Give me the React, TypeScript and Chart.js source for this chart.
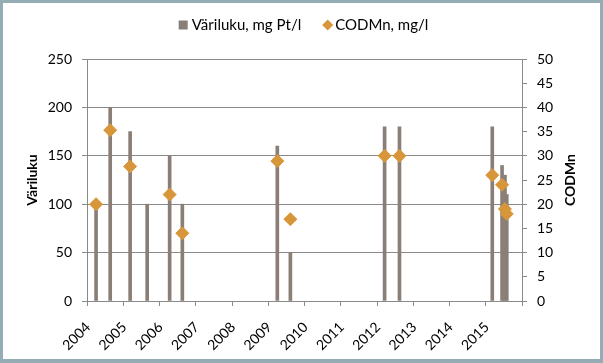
import React, { useEffect, useRef } from 'react';
import { Chart, registerables } from 'chart.js';

Chart.register(...registerables);

// ---- data ----
const sampleYears = [2004.25, 2004.64, 2005.19, 2005.66, 2006.28, 2006.63, 2009.25, 2009.61, 2012.21, 2012.62, 2015.18, 2015.45, 2015.53, 2015.58];
const varilukuValues = [100, 200, 175, 100, 150, 100, 160, 50, 180, 180, 180, 140, 130, 110];
const codmnValues: (number | null)[] = [20, 35.3, 27.8, null, 22, 14, 28.9, 16.9, 30, 30, 26, 24, 19, 18];
const xTickYears = [2004, 2005, 2006, 2007, 2008, 2009, 2010, 2011, 2012, 2013, 2014, 2015, 2016];
const xTickLabels = ['2004', '2005', '2006', '2007', '2008', '2009', '2010', '2011', '2012', '2013', '2014', '2015', ''];
const leftTicks = [0, 50, 100, 150, 200, 250];
const rightTicks = [0, 5, 10, 15, 20, 25, 30, 35, 40, 45, 50];
const seriesLabels = ['Väriluku, mg Pt/l', 'CODMn, mg/l'];
const axisTitles = ['Väriluku', 'CODMn'];

// ---- styles ----
const BAR = '#8a7f76';
const ORANGE = '#d8963a';
const GRID = '#8a8a8a';
const TEXT = '#000000';
const FRAME = '#94adb4';
const FONT = 'Lato';

const framePlugin = {
  id: 'frame',
  beforeDraw(chart: any) {
    const { ctx, width, height } = chart;
    ctx.save();
    ctx.fillStyle = '#ffffff';
    ctx.fillRect(0, 0, width, height);
    ctx.restore();
  },
  afterDraw(chart: any) {
    const { ctx, width, height, chartArea } = chart;
    ctx.save();
    // outer frame
    ctx.fillStyle = FRAME;
    ctx.fillRect(0, 0, width, 3);
    ctx.fillRect(0, 0, 3, height);
    ctx.fillRect(width - 3, 0, 3, height);
    ctx.fillRect(0, height - 4, width, 4);

    // right axis title (reads bottom to top)
    const y1 = chart.scales.y1;
    ctx.translate(y1.left + 48.5, (chartArea.top + chartArea.bottom) / 2);
    ctx.rotate(-Math.PI / 2);
    ctx.font = `bold 14px ${FONT}`;
    ctx.fillStyle = TEXT;
    ctx.textAlign = 'center';
    ctx.textBaseline = 'middle';
    ctx.fillText(axisTitles[1], 0, 0);
    ctx.restore();

    // legend
    ctx.save();
    ctx.font = `15px ${FONT}`;
    ctx.textBaseline = 'middle';
    ctx.textAlign = 'left';
    const ds = chart.data.datasets;
    const t1 = ds[0].label as string;
    const t2 = ds[1].label as string;
    const w1 = ctx.measureText(t1).width;
    const w2 = ctx.measureText(t2).width;
    const total = 9 + 4 + w1 + 21 + 11 + 2 + w2;
    let x = 303.5 - total / 2;
    const cy = 25;
    ctx.fillStyle = BAR;
    ctx.fillRect(x, cy - 4.5, 9, 9);
    x += 13;
    ctx.fillStyle = TEXT;
    ctx.fillText(t1, x, cy);
    x += w1 + 21;
    ctx.fillStyle = ORANGE;
    ctx.beginPath();
    ctx.moveTo(x + 5.5, cy - 5.5);
    ctx.lineTo(x + 11, cy);
    ctx.lineTo(x + 5.5, cy + 5.5);
    ctx.lineTo(x, cy);
    ctx.closePath();
    ctx.fill();
    x += 13;
    ctx.fillStyle = TEXT;
    ctx.fillText(t2, x, cy);
    ctx.restore();
  },
};

export default function App() {
  const ref = useRef<HTMLCanvasElement | null>(null);

  useEffect(() => {
    document.body.style.margin = '0';
    const canvas = ref.current;
    if (!canvas) return;
    const tickFont = { family: FONT, size: 14 };
    const chart = new Chart(canvas, {
      type: 'bar',
      data: {
        datasets: [
          {
            type: 'bar',
            label: seriesLabels[0],
            data: sampleYears.map((x, i) => ({ x, y: varilukuValues[i] })),
            backgroundColor: BAR,
            barThickness: 3,
            xAxisID: 'x',
            yAxisID: 'y',
            order: 2,
          } as any,
          {
            type: 'line',
            label: seriesLabels[1],
            data: sampleYears
              .map((x, i) => ({ x, y: codmnValues[i] }))
              .filter((p) => p.y !== null),
            showLine: false,
            pointStyle: 'rectRot',
            pointRadius: 6.5,
            pointHoverRadius: 6.5,
            backgroundColor: ORANGE,
            borderColor: ORANGE,
            borderWidth: 1,
            xAxisID: 'x',
            yAxisID: 'y1',
            order: 1,
          } as any,
        ],
      },
      options: {
        animation: false,
        responsive: false,
        events: [],
        layout: { padding: { top: 59, left: 0, right: 0, bottom: 0 } },
        plugins: {
          legend: { display: false },
          tooltip: { enabled: false },
        },
        scales: {
          x: {
            type: 'linear',
            min: 2004,
            max: 2016,
            offset: false,
            afterBuildTicks: (s: any) => {
              s.ticks = xTickYears.map((v) => ({ value: v }));
            },
            afterFit: (s: any) => {
              s.height = 62;
            },
            ticks: {
              autoSkip: false,
              maxRotation: 45,
              minRotation: 45,
              padding: 13,
              labelOffset: 1,
              font: { family: FONT, size: 14 },
              color: TEXT,
              callback: (v: any) => {
                const i = xTickYears.indexOf(Number(v));
                return i >= 0 ? xTickLabels[i] : '';
              },
            },
            grid: { drawOnChartArea: false, offset: false, tickLength: 5, color: GRID },
            border: { display: true, color: GRID },
          },
          y: {
            position: 'left',
            min: 0,
            max: 250,
            afterBuildTicks: (s: any) => {
              s.ticks = leftTicks.map((v) => ({ value: v }));
            },
            afterFit: (s: any) => {
              s.width = 87;
            },
            ticks: { padding: 10, font: tickFont, color: TEXT },
            grid: { color: GRID, tickLength: 5 },
            border: { display: true, color: GRID },
            title: {
              display: true,
              text: axisTitles[0],
              color: TEXT,
              font: { family: FONT, size: 14, weight: 'bold' },
              padding: { top: 23.6, bottom: 0 },
            },
          },
          y1: {
            position: 'right',
            min: 0,
            max: 50,
            afterBuildTicks: (s: any) => {
              s.ticks = rightTicks.map((v) => ({ value: v }));
            },
            afterFit: (s: any) => {
              s.width = 81;
            },
            ticks: { padding: 10, font: tickFont, color: TEXT },
            grid: { drawOnChartArea: false, tickLength: 5, color: GRID },
            border: { display: true, color: GRID },
          },
        },
      } as any,
      plugins: [framePlugin],
    });
    return () => chart.destroy();
  }, []);

  return (
    <div style={{ width: 603, height: 363 }}>
      <canvas ref={ref} width={603} height={363} style={{ display: 'block' }} />
    </div>
  );
}
